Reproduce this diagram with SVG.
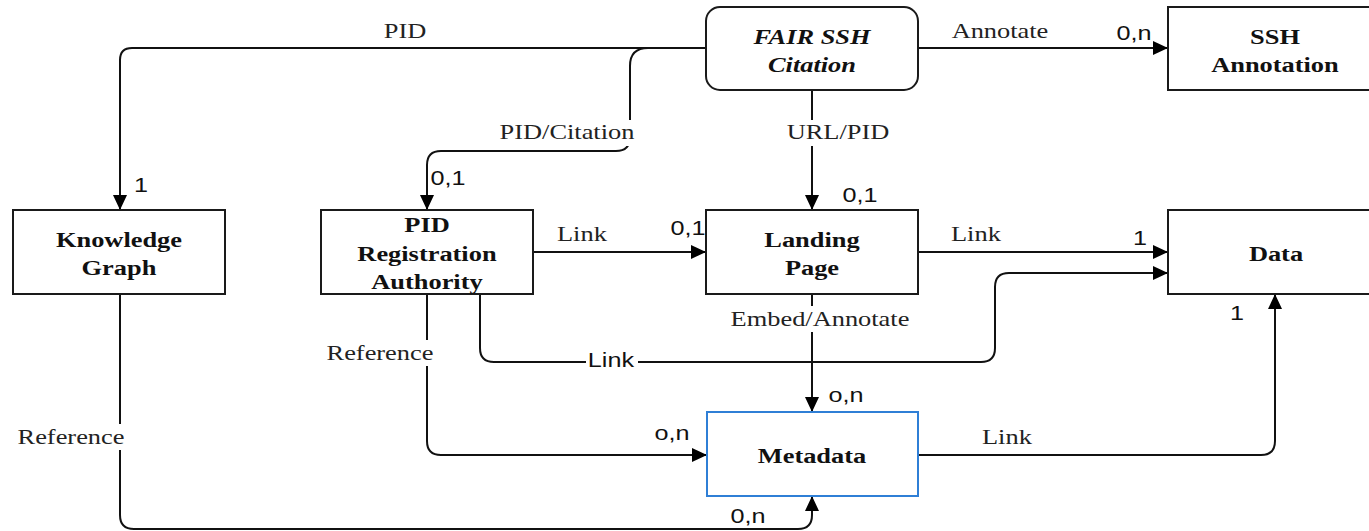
<svg xmlns="http://www.w3.org/2000/svg" width="1369" height="531" viewBox="0 0 1369 531">
<defs>
<marker id="arr" markerUnits="userSpaceOnUse" markerWidth="16" markerHeight="16" viewBox="0 0 16 16" refX="15" refY="8" orient="auto">
<path d="M0,1 L15,8 L0,15 Z" fill="#000"/>
</marker>
<style>
.box{fill:#fff;stroke:#1a1a1a;stroke-width:2}
.blue{stroke:#2f7fd6}
.n{font-family:"Liberation Serif","Times New Roman",serif;font-weight:bold;font-size:22px;text-anchor:middle;fill:#111}
.it{font-style:italic}
.l{font-family:"Liberation Serif","Times New Roman",serif;font-size:22px;text-anchor:middle;fill:#222}
.c{font-family:"Liberation Sans",Arial,sans-serif;font-size:21px;text-anchor:middle;fill:#111}
.s{transform-box:fill-box;transform-origin:center;transform:scaleX(1.2)}
.e{fill:none;stroke:#111;stroke-width:2}
.a{marker-end:url(#arr)}
.bg{fill:#fff}
</style>
</defs>
<rect width="1369" height="531" fill="#fff"/>
<g id="connectors">
<path class="e a" d="M706,48 H132 Q120,48 120,60 V210"/>
<path class="e a" d="M648,48 Q630,48 630,66 V137 Q630,151 616,151 H441 Q427,151 427,165 V210"/>
<path class="e a" d="M918,48 H1168"/>
<path class="e a" d="M812,90 V210"/>
<path class="e a" d="M533,252 H706"/>
<path class="e a" d="M918,252 H1168"/>
<path class="e a" d="M480,294 V348 Q480,362 494,362 H981 Q995,362 995,348 V287 Q995,273 1009,273 H1168"/>
<path class="e a" d="M812,294 V412"/>
<path class="e a" d="M427,294 V441 Q427,455 441,455 H707"/>
<path class="e a" d="M918,455 H1261 Q1275,455 1275,441 V294"/>
<path class="e a" d="M120,294 V515 Q120,529 134,529 H798 Q812,529 812,515 V496"/>
<rect class="bg" x="500" y="120" width="135" height="26"/>
<rect class="bg" x="785" y="120" width="106" height="26"/>
<rect class="bg" x="727" y="306" width="187" height="26"/>
<rect class="bg" x="325" y="340" width="110" height="26"/>
<rect class="bg" x="586" y="348" width="52" height="26"/>
<rect class="bg" x="15" y="424" width="112" height="26"/>
<text class="l s" x="405" y="38">PID</text>
<text class="l s" x="567" y="139">PID/Citation</text>
<text class="l s" x="1000" y="38">Annotate</text>
<text class="l s" x="838" y="139">URL/PID</text>
<text class="l s" x="582" y="241">Link</text>
<text class="l s" x="976" y="241">Link</text>
<text class="l s" x="820" y="326">Embed/Annotate</text>
<text class="l s" x="380" y="360">Reference</text>
<text class="c s" x="611" y="367">Link</text>
<text class="l s" x="71" y="444">Reference</text>
<text class="l s" x="1007" y="444">Link</text>
<text class="c s" x="1134" y="40">0,n</text>
<text class="c s" x="141" y="192">1</text>
<text class="c s" x="448" y="185">0,1</text>
<text class="c s" x="860" y="202">0,1</text>
<text class="c s" x="688" y="235">0,1</text>
<text class="c s" x="1140" y="245">1</text>
<text class="c s" x="1237" y="320">1</text>
<text class="c s" x="846" y="402">o,n</text>
<text class="c s" x="672" y="440">o,n</text>
<text class="c s" x="748" y="523">0,n</text>
</g>
<g id="citation">
<rect class="box" x="706" y="7" width="212" height="83" rx="14"/>
<text class="n it s" x="812" y="44">FAIR SSH</text>
<text class="n it s" x="812" y="72">Citation</text>
</g>
<g id="annotation">
<rect class="box" x="1168" y="7" width="210" height="83"/>
<text class="n s" x="1275" y="44">SSH</text>
<text class="n s" x="1275" y="72">Annotation</text>
</g>
<g id="knowledge-graph">
<rect class="box" x="13" y="210" width="212" height="84"/>
<text class="n s" x="119" y="247">Knowledge</text>
<text class="n s" x="119" y="275">Graph</text>
</g>
<g id="pid-ra">
<rect class="box" x="321" y="210" width="212" height="84"/>
<text class="n s" x="427" y="232">PID</text>
<text class="n s" x="427" y="261">Registration</text>
<text class="n s" x="427" y="289">Authority</text>
</g>
<g id="landing-page">
<rect class="box" x="706" y="210" width="212" height="84"/>
<text class="n s" x="812" y="247">Landing</text>
<text class="n s" x="812" y="275">Page</text>
</g>
<g id="data">
<rect class="box" x="1168" y="210" width="210" height="84"/>
<text class="n s" x="1276" y="261">Data</text>
</g>
<g id="metadata">
<rect class="box blue" x="707" y="412" width="211" height="84"/>
<text class="n s" x="812" y="463">Metadata</text>
</g>
</svg>
